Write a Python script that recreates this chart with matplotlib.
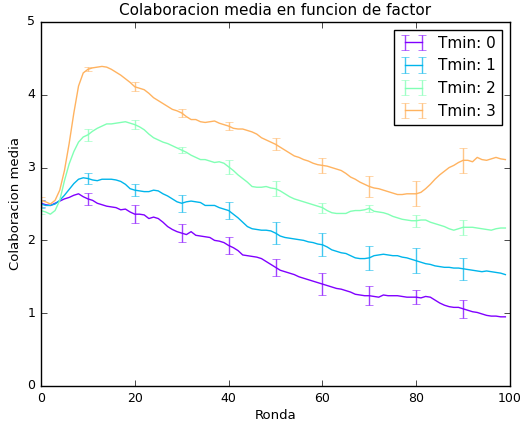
import matplotlib
matplotlib.use("Agg")
import matplotlib.pyplot as plt
import numpy as np

plt.style.use('classic')

rondas = list(range(100))
labels = ["Tmin: 0", "Tmin: 1", "Tmin: 2", "Tmin: 3"]

tmin0 = [2.51, 2.49, 2.48, 2.51, 2.54, 2.57, 2.59, 2.62, 2.64, 2.60,
         2.57, 2.55, 2.51, 2.49, 2.47, 2.46, 2.45, 2.42, 2.43, 2.39,
         2.36, 2.36, 2.35, 2.30, 2.32, 2.30, 2.25, 2.19, 2.15, 2.12,
         2.10, 2.08, 2.12, 2.07, 2.06, 2.05, 2.04, 2.00, 1.99, 1.97,
         1.93, 1.90, 1.86, 1.80, 1.79, 1.78, 1.77, 1.75, 1.71, 1.67,
         1.63, 1.59, 1.57, 1.55, 1.53, 1.50, 1.48, 1.46, 1.44, 1.42,
         1.40, 1.38, 1.36, 1.34, 1.33, 1.31, 1.29, 1.26, 1.25, 1.24,
         1.24, 1.23, 1.22, 1.25, 1.24, 1.24, 1.24, 1.23, 1.22, 1.22,
         1.22, 1.21, 1.23, 1.22, 1.18, 1.14, 1.11, 1.09, 1.08, 1.08,
         1.06, 1.04, 1.02, 1.01, 0.99, 0.97, 0.96, 0.96, 0.95, 0.95]

tmin1 = [2.50, 2.48, 2.48, 2.50, 2.55, 2.62, 2.70, 2.78, 2.84, 2.86,
         2.85, 2.83, 2.82, 2.84, 2.84, 2.84, 2.83, 2.81, 2.77, 2.71,
         2.69, 2.68, 2.67, 2.67, 2.69, 2.68, 2.64, 2.61, 2.57, 2.53,
         2.51, 2.53, 2.54, 2.53, 2.52, 2.48, 2.48, 2.48, 2.45, 2.43,
         2.41, 2.36, 2.31, 2.25, 2.19, 2.16, 2.15, 2.14, 2.14, 2.13,
         2.10, 2.06, 2.04, 2.03, 2.02, 2.01, 2.00, 1.98, 1.97, 1.95,
         1.94, 1.91, 1.87, 1.85, 1.83, 1.82, 1.79, 1.76, 1.75, 1.75,
         1.76, 1.79, 1.80, 1.81, 1.80, 1.79, 1.79, 1.77, 1.76, 1.74,
         1.72, 1.70, 1.68, 1.67, 1.65, 1.64, 1.63, 1.63, 1.62, 1.62,
         1.61, 1.60, 1.59, 1.58, 1.57, 1.58, 1.57, 1.56, 1.55, 1.53]

tmin2 = [2.41, 2.39, 2.36, 2.41, 2.55, 2.82, 3.05, 3.22, 3.35, 3.42,
         3.45, 3.50, 3.54, 3.57, 3.60, 3.60, 3.61, 3.62, 3.63, 3.61,
         3.59, 3.56, 3.52, 3.46, 3.41, 3.38, 3.35, 3.33, 3.30, 3.27,
         3.24, 3.21, 3.17, 3.14, 3.11, 3.11, 3.09, 3.07, 3.08, 3.06,
         3.01, 2.96, 2.90, 2.85, 2.80, 2.74, 2.73, 2.73, 2.74, 2.72,
         2.71, 2.68, 2.64, 2.60, 2.57, 2.55, 2.53, 2.51, 2.49, 2.47,
         2.45, 2.41, 2.38, 2.37, 2.37, 2.37, 2.40, 2.41, 2.41, 2.42,
         2.44, 2.40, 2.39, 2.38, 2.36, 2.33, 2.31, 2.29, 2.28, 2.27,
         2.27, 2.28, 2.28, 2.25, 2.23, 2.21, 2.19, 2.16, 2.14, 2.16,
         2.18, 2.18, 2.18, 2.17, 2.16, 2.15, 2.14, 2.16, 2.17, 2.17]

tmin3 = [2.55, 2.53, 2.50, 2.55, 2.69, 2.96, 3.33, 3.75, 4.12, 4.30,
         4.35, 4.37, 4.38, 4.39, 4.38, 4.35, 4.31, 4.27, 4.22, 4.17,
         4.11, 4.09, 4.07, 4.02, 3.96, 3.92, 3.88, 3.84, 3.80, 3.78,
         3.75, 3.70, 3.66, 3.66, 3.63, 3.62, 3.63, 3.64, 3.61, 3.59,
         3.57, 3.54, 3.53, 3.53, 3.51, 3.49, 3.46, 3.41, 3.38, 3.35,
         3.32, 3.28, 3.24, 3.20, 3.16, 3.14, 3.11, 3.09, 3.06, 3.04,
         3.03, 3.02, 3.00, 2.98, 2.96, 2.92, 2.87, 2.84, 2.80, 2.77,
         2.74, 2.72, 2.71, 2.69, 2.67, 2.65, 2.63, 2.63, 2.64, 2.64,
         2.64, 2.66, 2.71, 2.77, 2.84, 2.90, 2.95, 3.00, 3.03, 3.07,
         3.10, 3.10, 3.08, 3.14, 3.11, 3.10, 3.12, 3.14, 3.12, 3.11]

# error half-widths at rondas 0, 10, ..., 90
err0 = [0.05, 0.08, 0.12, 0.12, 0.12, 0.12, 0.15, 0.13, 0.10, 0.12]
err1 = [0.05, 0.08, 0.08, 0.12, 0.12, 0.15, 0.16, 0.16, 0.17, 0.15]
err2 = [0.05, 0.08, 0.06, 0.04, 0.10, 0.10, 0.07, 0.05, 0.08, 0.10]
err3 = [0.05, 0.03, 0.06, 0.06, 0.06, 0.08, 0.10, 0.15, 0.17, 0.17]

series = [tmin0, tmin1, tmin2, tmin3]
errs = [err0, err1, err2, err3]
colors = plt.cm.rainbow(np.linspace(0, 1, 5))[:4]

fig = plt.figure(figsize=(5.21, 4.23), dpi=100, facecolor='white')
ax = fig.add_axes([0.0787, 0.0875, 0.9003, 0.8605])
ax.set_facecolor('white')

for ys, es, c, lab in zip(series, errs, colors, labels):
    yerr = np.zeros(len(ys))
    yerr[::10] = es
    cont = ax.errorbar(rondas, ys, yerr=yerr, errorevery=10, color=c,
                       ecolor=c, capsize=3, label=lab, linewidth=1.0)
    for cl in cont[1]:
        cl.set_alpha(0.75)
    for bl in cont[2]:
        bl.set_alpha(0.75)

ax.set_xlim(0, 100)
ax.set_ylim(0, 5)
ax.set_xticks([0, 20, 40, 60, 80, 100])
ax.set_yticks([0, 1, 2, 3, 4, 5])
ax.set_title("Colaboracion media en funcion de factor", fontsize=11)
ax.set_xlabel("Ronda", fontsize=9.5, labelpad=3)
ax.set_ylabel("Colaboracion media", fontsize=9.5, labelpad=4)
ax.tick_params(labelsize=9)
ax.legend(loc='upper right', fontsize=11, handlelength=1.7)

fig.savefig("out.png", dpi=100, facecolor='white')
